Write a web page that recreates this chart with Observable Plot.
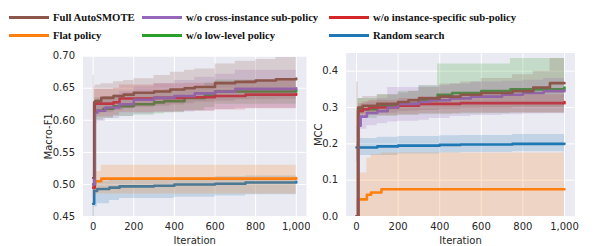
<!DOCTYPE html>
<html><head><meta charset="utf-8">
<script src="https://cdn.jsdelivr.net/npm/d3@7"></script>
<script src="https://cdn.jsdelivr.net/npm/@observablehq/plot@0.6"></script>
<style>
body{margin:0;width:610px;height:246px;position:relative;overflow:hidden;background:#fff}
#left,#right{position:absolute;top:0}
#left{left:0}#right{left:300px}
.item{position:absolute;display:flex;align-items:center;font-family:"Liberation Serif",serif;font-weight:bold;font-size:10.7px;color:#111;white-space:nowrap;line-height:1}
.sw{width:40px;height:3px;margin-right:4px}
</style></head><body>
<div id="left"></div><div id="right"></div><div id="legend"></div>
<script>
// ---- series meta ----
const names = ["Random search","Flat policy","w/o low-level policy","w/o instance-specific sub-policy","w/o cross-instance sub-policy","Full AutoSMOTE"];
const colors = ["#1f77b4","#ff7f0e","#2ca02c","#d62728","#9467bd","#8c564b"];
const legendOrder = ["Full AutoSMOTE","w/o cross-instance sub-policy","w/o instance-specific sub-policy","Flat policy","w/o low-level policy","Random search"];
const xTicks = [0,200,400,600,800,1000];
const f1Ticks = [0.45,0.50,0.55,0.60,0.65,0.70];
const mccTicks = [0,0.1,0.2,0.3,0.4];

// ---- Macro-F1 panel ----
const f1_random_x  = [0,5,20,80,130,300,400,600,750,1000];
const f1_random    = [0.47,0.49,0.493,0.495,0.497,0.498,0.50,0.501,0.503,0.504];
const f1_random_lo = [0.45,0.465,0.47,0.475,0.478,0.478,0.48,0.482,0.484,0.486];
const f1_random_hi = [0.49,0.505,0.505,0.506,0.507,0.508,0.51,0.512,0.513,0.514];

const f1_flat_x  = [0,10,40,1000];
const f1_flat    = [0.50,0.505,0.509,0.51];
const f1_flat_lo = [0.49,0.485,0.485,0.487];
const f1_flat_hi = [0.51,0.52,0.53,0.53];

const f1_low_x  = [0,8,50,100,200,300,350,450,550,600,1000];
const f1_low    = [0.50,0.615,0.618,0.622,0.625,0.628,0.63,0.635,0.64,0.645,0.647];
const f1_low_lo = [0.49,0.60,0.603,0.606,0.608,0.61,0.612,0.615,0.62,0.625,0.627];
const f1_low_hi = [0.51,0.635,0.637,0.64,0.643,0.646,0.648,0.652,0.658,0.663,0.665];

const f1_inst_x  = [0,8,100,130,300,450,600,750,1000];
const f1_inst    = [0.495,0.626,0.628,0.634,0.635,0.636,0.638,0.64,0.641];
const f1_inst_lo = [0.49,0.605,0.608,0.612,0.613,0.614,0.616,0.618,0.619];
const f1_inst_hi = [0.50,0.648,0.65,0.655,0.657,0.658,0.66,0.662,0.663];

const f1_cross_x  = [0,8,20,60,130,200,300,400,500,600,700,1000];
const f1_cross    = [0.50,0.612,0.615,0.62,0.625,0.632,0.635,0.638,0.642,0.645,0.649,0.65];
const f1_cross_lo = [0.48,0.595,0.598,0.603,0.606,0.61,0.612,0.613,0.615,0.617,0.619,0.62];
const f1_cross_hi = [0.52,0.63,0.633,0.637,0.645,0.652,0.657,0.662,0.667,0.672,0.678,0.68];

const f1_full_x  = [0,5,10,40,100,150,200,300,380,450,500,600,700,800,900,1000];
const f1_full    = [0.51,0.628,0.63,0.635,0.638,0.64,0.643,0.645,0.648,0.65,0.652,0.658,0.66,0.662,0.664,0.665];
const f1_full_lo = [0.45,0.605,0.61,0.612,0.615,0.618,0.62,0.622,0.624,0.626,0.628,0.63,0.632,0.632,0.633,0.633];
const f1_full_hi = [0.67,0.652,0.655,0.657,0.66,0.662,0.665,0.67,0.675,0.678,0.68,0.688,0.692,0.695,0.698,0.698];

// ---- MCC panel ----
const mcc_random_x  = [0,8,100,200,400,500,750,1000];
const mcc_random    = [0.19,0.19,0.193,0.195,0.197,0.198,0.20,0.20];
const mcc_random_lo = [0.15,0.168,0.168,0.172,0.175,0.176,0.178,0.18];
const mcc_random_hi = [0.20,0.215,0.218,0.22,0.222,0.223,0.226,0.226];

const mcc_flat_x  = [0,8,50,70,120,1000];
const mcc_flat    = [0,0.047,0.06,0.066,0.075,0.075];
const mcc_flat_lo = [0,0,0,0,0,0];
const mcc_flat_hi = [0,0.12,0.16,0.17,0.175,0.18];

const mcc_low_x  = [0,8,100,200,300,390,460,600,740,1000];
const mcc_low    = [0,0.295,0.305,0.31,0.32,0.335,0.34,0.345,0.35,0.355];
const mcc_low_lo = [0,0.27,0.275,0.278,0.28,0.28,0.282,0.283,0.285,0.285];
const mcc_low_hi = [0,0.325,0.335,0.345,0.36,0.42,0.42,0.42,0.435,0.435];

const mcc_inst_x  = [0,8,30,60,200,300,500,1000];
const mcc_inst    = [0,0.29,0.295,0.30,0.305,0.31,0.312,0.315];
const mcc_inst_lo = [0,0.27,0.275,0.278,0.28,0.283,0.285,0.288];
const mcc_inst_hi = [0,0.31,0.315,0.32,0.325,0.33,0.335,0.34];

const mcc_cross_x  = [0,8,20,50,100,150,200,300,350,450,550,700,800,900,1000];
const mcc_cross    = [0,0.25,0.275,0.285,0.29,0.30,0.31,0.315,0.32,0.325,0.33,0.335,0.34,0.345,0.347];
const mcc_cross_lo = [0,0.21,0.24,0.25,0.255,0.26,0.262,0.265,0.27,0.275,0.278,0.28,0.282,0.283,0.285];
const mcc_cross_hi = [0,0.30,0.31,0.315,0.325,0.355,0.355,0.36,0.36,0.365,0.37,0.372,0.375,0.38,0.38];

const mcc_full_x  = [0,8,30,100,200,250,300,400,500,600,750,850,930,1000];
const mcc_full    = [0,0.30,0.305,0.31,0.315,0.32,0.325,0.33,0.335,0.34,0.345,0.355,0.367,0.367];
const mcc_full_lo = [0,0.28,0.282,0.285,0.288,0.29,0.292,0.295,0.297,0.298,0.30,0.30,0.30,0.30];
const mcc_full_hi = [0.37,0.325,0.33,0.335,0.34,0.345,0.355,0.365,0.37,0.38,0.39,0.40,0.435,0.435];

function rows(name, xs, m, lo, hi){ return xs.map((x,i)=>({name, x, m:m[i], lo:lo[i], hi:hi[i]})); }

const f1Series = [
  rows(names[0], f1_random_x, f1_random, f1_random_lo, f1_random_hi),
  rows(names[1], f1_flat_x, f1_flat, f1_flat_lo, f1_flat_hi),
  rows(names[2], f1_low_x, f1_low, f1_low_lo, f1_low_hi),
  rows(names[3], f1_inst_x, f1_inst, f1_inst_lo, f1_inst_hi),
  rows(names[4], f1_cross_x, f1_cross, f1_cross_lo, f1_cross_hi),
  rows(names[5], f1_full_x, f1_full, f1_full_lo, f1_full_hi)
];
const mccSeries = [
  rows(names[0], mcc_random_x, mcc_random, mcc_random_lo, mcc_random_hi),
  rows(names[1], mcc_flat_x, mcc_flat, mcc_flat_lo, mcc_flat_hi),
  rows(names[2], mcc_low_x, mcc_low, mcc_low_lo, mcc_low_hi),
  rows(names[3], mcc_inst_x, mcc_inst, mcc_inst_lo, mcc_inst_hi),
  rows(names[4], mcc_cross_x, mcc_cross, mcc_cross_lo, mcc_cross_hi),
  rows(names[5], mcc_full_x, mcc_full, mcc_full_lo, mcc_full_hi)
];

function panel(series, o){
  const marks = [
    Plot.frame({fill:"#eaeaf2", stroke:null}),
    Plot.gridX(xTicks, {stroke:"#fff", strokeOpacity:1, strokeWidth:1}),
    Plot.gridY(o.yTicks, {stroke:"#fff", strokeOpacity:1, strokeWidth:1})
  ];
  series.forEach(s=>{
    marks.push(Plot.areaY(s, {x:"x", y1:"lo", y2:"hi", fill:"name", fillOpacity:0.2, curve:"step-after", clip:true}));
    marks.push(Plot.line(s, {x:"x", y:"m", stroke:"name", strokeWidth:2.6, curve:"step-after", clip:true}));
  });
  marks.push(Plot.axisX(xTicks, {tickSize:0, tickPadding:6, label:"Iteration", labelAnchor:"center", labelArrow:"none", labelOffset:27}));
  marks.push(Plot.axisY(o.yTicks, {tickSize:0, tickPadding:8, tickFormat:o.fmt, label:o.label, labelAnchor:"center", labelArrow:"none", labelOffset:o.labelOffset}));
  return Plot.plot({
    width:310, height:246,
    marginLeft:o.ml, marginRight:o.mr, marginTop:o.mt, marginBottom:30,
    x:{domain:[-50,1050]},
    y:{domain:o.yDomain},
    color:{domain:names, range:colors},
    style:{background:"transparent", fontFamily:"DejaVu Sans", fontSize:"10px", color:"#262626"},
    marks
  });
}

document.getElementById("left").append(panel(f1Series, {yTicks:f1Ticks, fmt:d3.format(".2f"), label:"Macro-F1", labelOffset:38, ml:82.5, mr:4.1, mt:55.7, yDomain:[0.45,0.70]}));
document.getElementById("right").append(panel(mccSeries, {yTicks:mccTicks, fmt:d3.format(".1f"), label:"MCC", labelOffset:31, ml:45.6, mr:35.6, mt:52.5, yDomain:[0,0.45]}));

// legend
const legendPos = [[9,17.7],[142,17.7],[329,17.7],[9,35.7],[142,35.7],[329,35.7]];
const lg = document.getElementById("legend");
legendOrder.forEach((n,i)=>{
  const d = document.createElement("div");
  d.className="item";
  d.style.left = legendPos[i][0]+"px";
  d.style.top = (legendPos[i][1]-6)+"px";
  d.style.height = "12px";
  const sw = document.createElement("span");
  sw.className="sw"; sw.style.background = colors[names.indexOf(n)];
  const t = document.createElement("span"); t.textContent = n;
  d.append(sw,t); lg.append(d);
});
</script>
</body></html>
